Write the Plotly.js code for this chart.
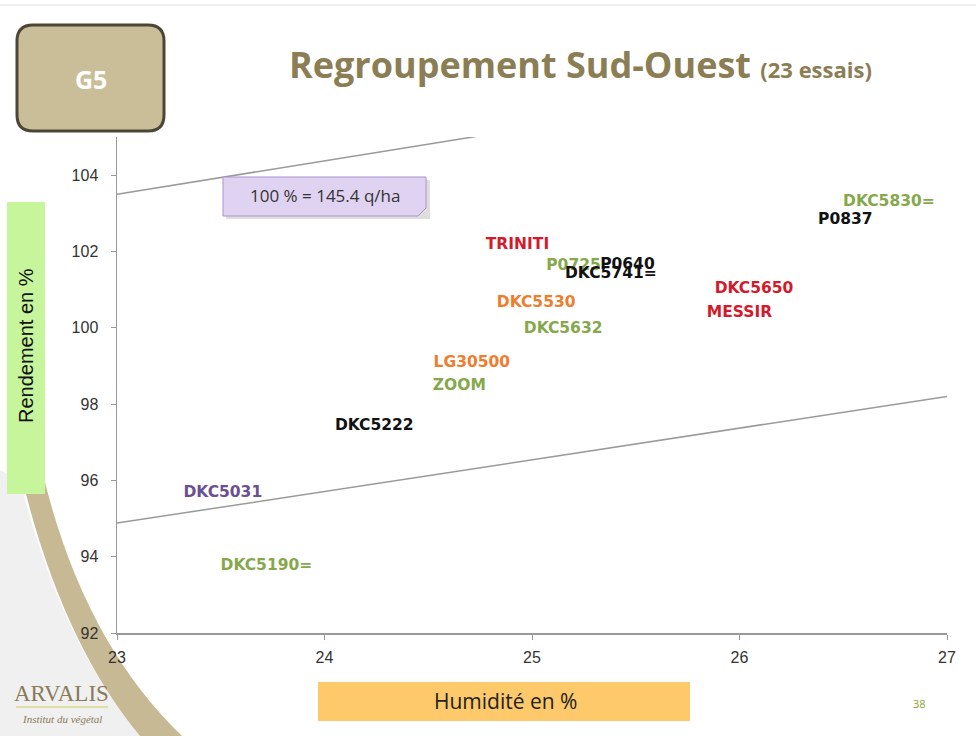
<!DOCTYPE html>
<html>
<head>
<meta charset="utf-8">
<script src="https://cdn.plot.ly/plotly-3.0.1.min.js"></script>
<style>html,body{margin:0;padding:0;background:#fff;}#chart{width:976px;height:736px;}</style>
</head>
<body>
<div id="chart"></div>
<script>
// Variety labels (data labels of the scatter), humidity (%) and yield (%)
const varieties = ["P0725","DKC5830=","P0837","TRINITI","P0640","DKC5741=","DKC5650","MESSIR","DKC5530","DKC5632","LG30500","ZOOM","DKC5222","DKC5031","DKC5190="];
const humidity  = [25.20, 26.72, 26.51, 24.93, 25.46, 25.38, 26.07, 26.00, 25.02, 25.15, 24.71, 24.65, 24.24, 23.51, 23.72];
const yieldPct  = [101.62,103.29,102.82,102.17,101.65,101.41,101.02,100.39,100.65, 99.97, 99.08, 98.46, 97.41, 95.66, 93.75];
const labelColors = ["#86a84c","#86a84c","#111111","#d41a2a","#111111","#111111","#d41a2a","#d41a2a","#ef7d2d","#86a84c","#ef7d2d","#86a84c","#111111","#6a4f93","#86a84c"];

// Upper and lower limit lines
const limitX = [23, 27];
const upperY = [103.5, 107.0];
const lowerY = [94.88, 98.2];

const xTicks = [23, 24, 25, 26, 27];
const yTicks = [92, 94, 96, 98, 100, 102, 104];

// pixel -> paper helpers for decorations
const L = 117, R = 947, T = 137, B = 633;
const px = p => (p - L) / (R - L);
const py = p => (B - p) / (B - T);

const traces = [
  {x: limitX, y: upperY, mode: 'lines', line: {color: '#9a9a9a', width: 1.5}, hoverinfo: 'skip', showlegend: false},
  {x: limitX, y: lowerY, mode: 'lines', line: {color: '#9a9a9a', width: 1.5}, hoverinfo: 'skip', showlegend: false},
  {x: humidity, y: yieldPct, text: varieties, mode: 'text', textposition: 'middle center',
   textfont: {family: 'DejaVu Sans', size: 15.5, weight: 'bold', color: labelColors},
   cliponaxis: false, showlegend: false}
];

const shapes = [
  // top faint line
  {type: 'line', xref: 'paper', yref: 'paper', x0: px(0), x1: px(976), y0: py(5), y1: py(5), line: {color: '#eeeeee', width: 2}, layer: 'below'},
  // left shadow
  {type: 'path', xref: 'paper', yref: 'paper', layer: 'below',
   path: `M ${px(0)} ${py(470)} L ${px(20)} ${py(480)} Q ${px(60)} ${py(640)} ${px(140)} ${py(736)} L ${px(0)} ${py(736)} Z`,
   fillcolor: 'rgba(0,0,0,0.06)', line: {width: 0}},
  // beige band
  {type: 'path', xref: 'paper', yref: 'paper', layer: 'below',
   path: `M ${px(20)} ${py(470)} Q ${px(60)} ${py(640)} ${px(140)} ${py(736)} L ${px(182)} ${py(736)} Q ${px(82)} ${py(640)} ${px(42)} ${py(470)} Z`,
   fillcolor: '#c7b994', line: {width: 0}},
  // G5 box
  {type: 'path', xref: 'paper', yref: 'paper',
   path: (() => { const x0=17,x1=164,y0=25,y1=131,r=16;
     return `M ${px(x0+r)} ${py(y0)} L ${px(x1-r)} ${py(y0)} Q ${px(x1)} ${py(y0)} ${px(x1)} ${py(y0+r)} L ${px(x1)} ${py(y1-r)} Q ${px(x1)} ${py(y1)} ${px(x1-r)} ${py(y1)} L ${px(x0+r)} ${py(y1)} Q ${px(x0)} ${py(y1)} ${px(x0)} ${py(y1-r)} L ${px(x0)} ${py(y0+r)} Q ${px(x0)} ${py(y0)} ${px(x0+r)} ${py(y0)} Z`; })(),
   fillcolor: '#c9be97', line: {color: '#4b4636', width: 3}},
  // y title box
  {type: 'rect', xref: 'paper', yref: 'paper', x0: px(7), x1: px(45), y0: py(494), y1: py(202), fillcolor: '#c6f59c', line: {width: 0}},
  // x title box
  {type: 'rect', xref: 'paper', yref: 'paper', x0: px(318), x1: px(690), y0: py(721), y1: py(682), fillcolor: '#fdc96a', line: {width: 0}},
  // callout shadow
  {type: 'rect', xref: 'paper', yref: 'paper', x0: px(226), x1: px(430), y0: py(219), y1: py(180), fillcolor: 'rgba(0,0,0,0.13)', line: {width: 0}},
  // callout box
  {type: 'path', xref: 'paper', yref: 'paper',
   path: `M ${px(223)} ${py(177)} L ${px(426)} ${py(177)} L ${px(426)} ${py(208)} L ${px(418)} ${py(216)} L ${px(223)} ${py(216)} Z`,
   fillcolor: '#e0d3f2', line: {color: '#a994cc', width: 1}},
  // ARVALIS underline
  {type: 'line', xref: 'paper', yref: 'paper', x0: px(16), x1: px(108), y0: py(707), y1: py(707), line: {color: '#d9d98a', width: 1.5}}
];

const A = (x, y, text, font, extra) => Object.assign({xref: 'paper', yref: 'paper', x: px(x), y: py(y), xanchor: 'center', yanchor: 'middle', showarrow: false, text: text, font: font}, extra || {});

const annotations = [
  A(580, 65, '<b>Regroupement Sud-Ouest</b> <b><span style="font-size:22px">(23 essais)</span></b>', {family: 'Open Sans', size: 36, color: '#8b7d54'}),
  A(91, 79, '<b>G5</b>', {family: 'Open Sans', size: 25, color: '#ffffff'}),
  A(325, 196, '100 % = 145.4 q/ha', {family: 'Open Sans', size: 17, color: '#333333'}),
  A(26, 346, 'Rendement en %', {family: 'Liberation Sans', size: 20, color: '#111111'}, {textangle: -90}),
  A(505, 701, 'Humidité en %', {family: 'Open Sans', size: 21, color: '#222222'}),
  A(919, 703, '38', {family: 'Open Sans', size: 11, color: '#8aa032'}),
  A(62, 693, 'ARVALIS', {family: 'Liberation Serif', size: 23, color: '#8a7a5a'}),
  A(62, 719, '<i>Institut du végétal</i>', {family: 'Liberation Serif', size: 11, color: '#8a7a5a'})
];

const layout = {
  width: 976, height: 736,
  margin: {l: L, r: 976 - R, t: T, b: 736 - B, pad: 0},
  paper_bgcolor: '#ffffff', plot_bgcolor: 'rgba(0,0,0,0)',
  showlegend: false,
  xaxis: {range: [23, 27], tickvals: xTicks, ticktext: xTicks.map(String), showgrid: false, zeroline: false,
          showline: true, linecolor: '#999999', linewidth: 1.5, ticks: 'outside', ticklen: 5, tickcolor: '#999999',
          ticklabelstandoff: 4,
          tickfont: {family: 'Liberation Sans', size: 16, color: '#333333'}, fixedrange: true},
  yaxis: {range: [92, 105], tickvals: yTicks, ticktext: yTicks.map(String), showgrid: false, zeroline: false,
          showline: true, linecolor: '#999999', linewidth: 1.5, ticks: 'outside', ticklen: 5, tickcolor: '#999999',
          ticklabelstandoff: 9,
          tickfont: {family: 'Liberation Sans', size: 16, color: '#333333'}, fixedrange: true},
  shapes: shapes,
  annotations: annotations
};

Plotly.newPlot('chart', traces, layout, {displayModeBar: false, staticPlot: true});
</script>
</body>
</html>
